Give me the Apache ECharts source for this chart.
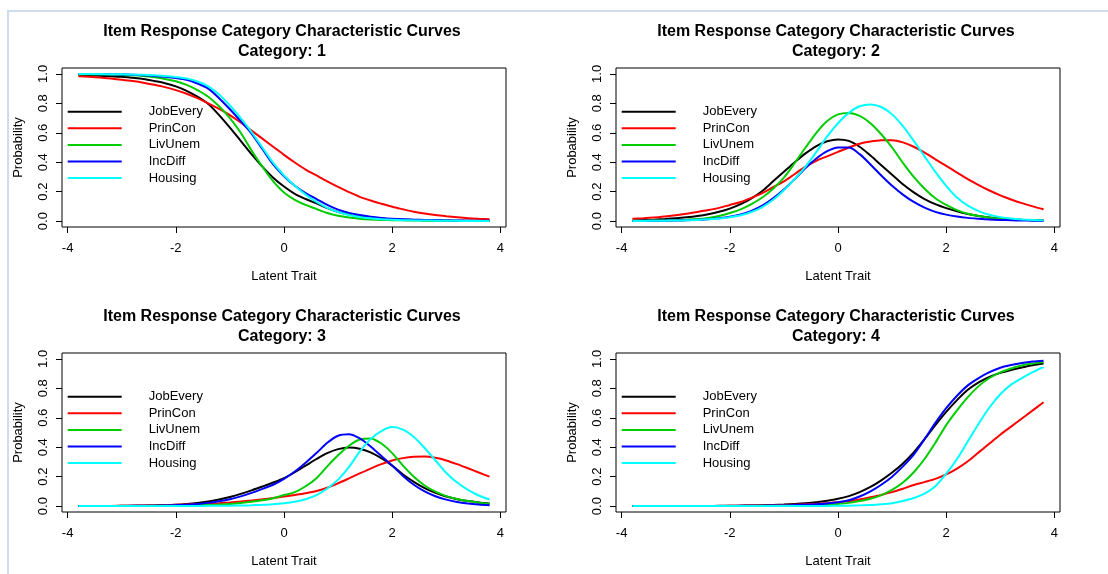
<!DOCTYPE html>
<html><head><meta charset="utf-8">
<script src="https://cdn.jsdelivr.net/npm/echarts@6/dist/echarts.min.js"></script>
<style>html,body{margin:0;padding:0;background:#fff}#c{width:1108px;height:574px}</style>
</head><body><div id="c"></div>
<script>
// ---- data, latent trait -3.8 .. 3.8 step 0.2 ----
const theta = [-3.8,-3.6,-3.4,-3.2,-3.0,-2.8,-2.6,-2.4,-2.2,-2.0,
               -1.8,-1.6,-1.4,-1.2,-1.0,-0.8,-0.6,-0.4,-0.2,0,
               0.2,0.4,0.6,0.8,1.0,1.2,1.4,1.6,1.8,2.0,
               2.2,2.4,2.6,2.8,3.0,3.2,3.4,3.6,3.8];
const itemNames = ['JobEvery','PrinCon','LivUnem','IncDiff','Housing'];
const itemColors = ['#000000','#ff0000','#00cd00','#0000ff','#00ffff'];
const xTicks = [-4,-2,0,2,4];
const yTicks = [0,0.2,0.4,0.6,0.8,1.0];
const categoryLabels = ['1','2','3','4'];

const cat1_JobEvery = [0.992,0.990,0.988,0.984,0.980,0.973,0.965,0.952,0.937,0.915,
  0.885,0.845,0.795,0.72,0.635,0.545,0.455,0.37,0.295,0.235,
  0.185,0.15,0.12,0.088,0.062,0.044,0.032,0.024,0.018,0.013,
  0.01,0.008,0.006,0.005,0.004,0.003,0.003,0.002,0.002];
const cat1_PrinCon = [0.984,0.980,0.975,0.968,0.960,0.951,0.940,0.926,0.910,0.890,
  0.865,0.835,0.800,0.762,0.720,0.670,0.615,0.560,0.505,0.450,
  0.398,0.350,0.310,0.270,0.232,0.197,0.165,0.140,0.118,0.097,
  0.080,0.064,0.051,0.041,0.033,0.026,0.020,0.016,0.013];
const cat1_LivUnem = [0.998,0.997,0.996,0.995,0.993,0.990,0.985,0.977,0.966,0.950,
  0.925,0.890,0.845,0.780,0.700,0.600,0.480,0.370,0.270,0.195,
  0.145,0.110,0.082,0.055,0.036,0.024,0.016,0.011,0.008,0.006,
  0.005,0.004,0.003,0.002,0.002,0.001,0.001,0.001,0.001];
const cat1_IncDiff = [0.999,0.999,0.998,0.997,0.996,0.994,0.991,0.986,0.980,0.972,
  0.960,0.935,0.900,0.835,0.760,0.680,0.595,0.490,0.385,0.305,
  0.240,0.190,0.150,0.110,0.078,0.056,0.041,0.030,0.022,0.016,
  0.012,0.010,0.008,0.006,0.005,0.004,0.003,0.002,0.002];
const cat1_Housing = [0.999,0.999,0.999,0.998,0.997,0.996,0.994,0.990,0.985,0.978,
  0.968,0.948,0.915,0.860,0.785,0.700,0.605,0.500,0.395,0.310,
  0.240,0.180,0.130,0.090,0.062,0.042,0.028,0.019,0.013,0.009,
  0.006,0.005,0.004,0.003,0.002,0.002,0.001,0.001,0.001];

const cat2_JobEvery = [0.005,0.007,0.010,0.014,0.019,0.026,0.035,0.047,0.063,0.085,
  0.115,0.155,0.205,0.270,0.335,0.400,0.460,0.510,0.542,0.555,
  0.545,0.505,0.445,0.380,0.315,0.250,0.195,0.150,0.115,0.088,
  0.066,0.048,0.034,0.024,0.017,0.012,0.009,0.007,0.005];
const cat2_PrinCon = [0.016,0.020,0.025,0.032,0.040,0.050,0.062,0.075,0.090,0.110,
  0.130,0.158,0.190,0.230,0.270,0.320,0.370,0.410,0.440,0.470,
  0.500,0.525,0.540,0.549,0.550,0.535,0.505,0.465,0.420,0.375,
  0.330,0.285,0.245,0.208,0.175,0.147,0.122,0.100,0.080];
const cat2_LivUnem = [0.002,0.003,0.004,0.005,0.007,0.010,0.014,0.022,0.035,0.055,
  0.080,0.115,0.160,0.220,0.295,0.395,0.500,0.600,0.680,0.725,
  0.735,0.715,0.665,0.590,0.500,0.395,0.300,0.220,0.155,0.110,
  0.075,0.050,0.034,0.023,0.016,0.011,0.008,0.006,0.005];
const cat2_IncDiff = [0.001,0.002,0.002,0.003,0.004,0.006,0.009,0.013,0.020,0.030,
  0.045,0.070,0.105,0.155,0.215,0.285,0.360,0.425,0.475,0.500,
  0.500,0.455,0.385,0.310,0.240,0.180,0.130,0.092,0.063,0.044,
  0.031,0.022,0.016,0.011,0.008,0.006,0.004,0.003,0.002];
const cat2_Housing = [0.001,0.001,0.002,0.003,0.004,0.006,0.008,0.012,0.018,0.027,
  0.040,0.062,0.095,0.145,0.210,0.285,0.370,0.470,0.575,0.665,
  0.735,0.780,0.792,0.775,0.725,0.645,0.545,0.440,0.335,0.240,
  0.160,0.105,0.068,0.043,0.027,0.017,0.011,0.007,0.005];

const cat3_JobEvery = [0,0,0.001,0.001,0.002,0.002,0.003,0.005,0.007,0.010,
  0.015,0.022,0.032,0.045,0.062,0.083,0.107,0.133,0.160,0.190,
  0.230,0.275,0.320,0.360,0.387,0.398,0.390,0.365,0.325,0.275,
  0.215,0.165,0.122,0.090,0.065,0.047,0.034,0.025,0.018];
const cat3_PrinCon = [0,0,0.001,0.001,0.002,0.003,0.004,0.005,0.007,0.009,
  0.011,0.013,0.016,0.020,0.025,0.031,0.038,0.046,0.055,0.065,
  0.076,0.088,0.103,0.125,0.155,0.188,0.222,0.255,0.285,0.310,
  0.326,0.335,0.337,0.328,0.310,0.285,0.257,0.228,0.200];
const cat3_LivUnem = [0,0,0,0,0.001,0.001,0.001,0.002,0.002,0.003,
  0.004,0.006,0.008,0.011,0.015,0.021,0.029,0.040,0.054,0.075,
  0.095,0.135,0.190,0.270,0.345,0.410,0.452,0.460,0.425,0.360,
  0.275,0.200,0.140,0.098,0.068,0.048,0.034,0.023,0.015];
const cat3_IncDiff = [0,0,0,0.001,0.001,0.002,0.002,0.003,0.005,0.007,
  0.010,0.015,0.022,0.033,0.047,0.066,0.090,0.117,0.145,0.185,
  0.235,0.295,0.360,0.430,0.478,0.488,0.460,0.405,0.340,0.275,
  0.205,0.145,0.100,0.067,0.044,0.028,0.018,0.011,0.006];
const cat3_Housing = [0,0,0,0,0,0,0,0,0,0.001,
  0.001,0.001,0.002,0.002,0.003,0.004,0.006,0.009,0.013,0.020,
  0.030,0.047,0.075,0.120,0.180,0.265,0.370,0.455,0.510,0.537,
  0.520,0.470,0.395,0.310,0.225,0.160,0.110,0.072,0.045];

const cat4_JobEvery = [0,0,0,0,0,0.001,0.001,0.001,0.002,0.002,
  0.003,0.004,0.006,0.008,0.011,0.015,0.020,0.027,0.037,0.050,
  0.068,0.095,0.130,0.175,0.228,0.290,0.365,0.455,0.550,0.640,
  0.720,0.790,0.840,0.878,0.905,0.925,0.942,0.957,0.968];
const cat4_PrinCon = [0,0,0,0,0,0,0,0,0.001,0.002,
  0.003,0.004,0.005,0.006,0.008,0.010,0.013,0.016,0.020,0.026,
  0.033,0.045,0.060,0.076,0.095,0.118,0.143,0.163,0.185,0.215,
  0.255,0.305,0.365,0.425,0.485,0.540,0.595,0.650,0.705];
const cat4_LivUnem = [0,0,0,0,0,0,0,0,0,0,
  0.001,0.001,0.002,0.002,0.003,0.004,0.005,0.007,0.010,0.015,
  0.022,0.034,0.050,0.075,0.110,0.160,0.230,0.320,0.430,0.550,
  0.650,0.740,0.815,0.870,0.908,0.935,0.955,0.968,0.978];
const cat4_IncDiff = [0,0,0,0,0,0,0,0,0.001,0.001,
  0.002,0.002,0.003,0.004,0.005,0.007,0.010,0.013,0.018,0.026,
  0.040,0.065,0.100,0.145,0.200,0.270,0.350,0.455,0.565,0.665,
  0.750,0.820,0.870,0.910,0.940,0.958,0.972,0.982,0.988];
const cat4_Housing = [0,0,0,0,0,0,0,0,0,0,
  0,0,0,0,0,0,0,0.001,0.001,0.002,
  0.003,0.005,0.007,0.012,0.020,0.035,0.055,0.085,0.135,0.220,
  0.320,0.440,0.560,0.670,0.760,0.825,0.870,0.910,0.945];

const categoryData = [
  [cat1_JobEvery, cat1_PrinCon, cat1_LivUnem, cat1_IncDiff, cat1_Housing],
  [cat2_JobEvery, cat2_PrinCon, cat2_LivUnem, cat2_IncDiff, cat2_Housing],
  [cat3_JobEvery, cat3_PrinCon, cat3_LivUnem, cat3_IncDiff, cat3_Housing],
  [cat4_JobEvery, cat4_PrinCon, cat4_LivUnem, cat4_IncDiff, cat4_Housing]
];

// ---- layout ----
const FONT = '"Liberation Sans", Arial, Helvetica, sans-serif';
const panels = [
  {left: 62,  top: 68},
  {left: 616, top: 68},
  {left: 62,  top: 353},
  {left: 616, top: 353}
];
const GW = 444, GH = 159;

const chart = echarts.init(document.getElementById('c'), null, {renderer: 'canvas'});

const grid = [], xAxis = [], yAxis = [], title = [], legend = [], series = [];
panels.forEach((p, i) => {
  grid.push({left: p.left, top: p.top, width: GW, height: GH, show: true,
    borderColor: '#000', borderWidth: 1, backgroundColor: 'transparent',
    containLabel: false, outerBoundsMode: 'none'});
  xAxis.push({type: 'value', gridIndex: i, min: -4.104, max: 4.104, position: 'bottom',
    name: 'Latent Trait', nameLocation: 'middle', nameGap: 43,
    nameTextStyle: {color: '#000', fontSize: 13, fontFamily: FONT},
    axisLine: {show: false, onZero: false},
    axisTick: {show: true, customValues: xTicks, length: 6, lineStyle: {color: '#000', width: 1}},
    axisLabel: {show: true, customValues: xTicks, margin: 15, color: '#000', fontSize: 13, fontFamily: FONT,
      formatter: v => String(v)},
    splitLine: {show: false}});
  yAxis.push({type: 'value', gridIndex: i, min: -0.04, max: 1.04, position: 'left',
    name: 'Probability', nameLocation: 'middle', nameGap: 37, nameRotate: 90,
    nameTextStyle: {color: '#000', fontSize: 13, fontFamily: FONT},
    axisLine: {show: false, onZero: false},
    axisTick: {show: true, customValues: yTicks, length: 6, lineStyle: {color: '#000', width: 1}},
    axisLabel: {show: true, customValues: yTicks, rotate: 90, margin: 12, color: '#000', fontSize: 13, fontFamily: FONT,
      formatter: v => v.toFixed(1)},
    splitLine: {show: false}});
  title.push({text: 'Item Response Category Characteristic Curves\nCategory: ' + categoryLabels[i],
    left: p.left + GW / 2 - 2, top: p.top - 46, textAlign: 'center', padding: 0,
    textStyle: {fontSize: 16, fontWeight: 'bold', color: '#000', fontFamily: FONT, lineHeight: 20}});
  legend.push({data: itemNames, orient: 'vertical', left: p.left + 5.7, top: p.top + 36.7, padding: 0,
    itemWidth: 54, itemHeight: 14, itemGap: 2.6, selectedMode: false,
    icon: 'path://M0,0H54V2H0Z',
    textStyle: {fontSize: 13, color: '#000', fontFamily: FONT, lineHeight: 14, padding: [0, 0, 0, 22]}});
  categoryData[i].forEach((vals, k) => {
    series.push({type: 'line', name: itemNames[k], xAxisIndex: i, yAxisIndex: i,
      data: theta.map((t, j) => [t, vals[j]]),
      showSymbol: false, symbol: 'none', smooth: 0.3,
      color: itemColors[k], itemStyle: {color: itemColors[k]},
      lineStyle: {color: itemColors[k], width: 2}, z: 2 + k});
  });
});

chart.setOption({
  animation: false,
  backgroundColor: '#ffffff',
  title, grid, xAxis, yAxis, legend, series,
  graphic: [{type: 'polyline', silent: true, z: 100,
    shape: {points: [[8, 574], [8, 11], [1108, 11]]},
    style: {stroke: '#cfdcef', lineWidth: 2, fill: null}}]
});
</script></body></html>
